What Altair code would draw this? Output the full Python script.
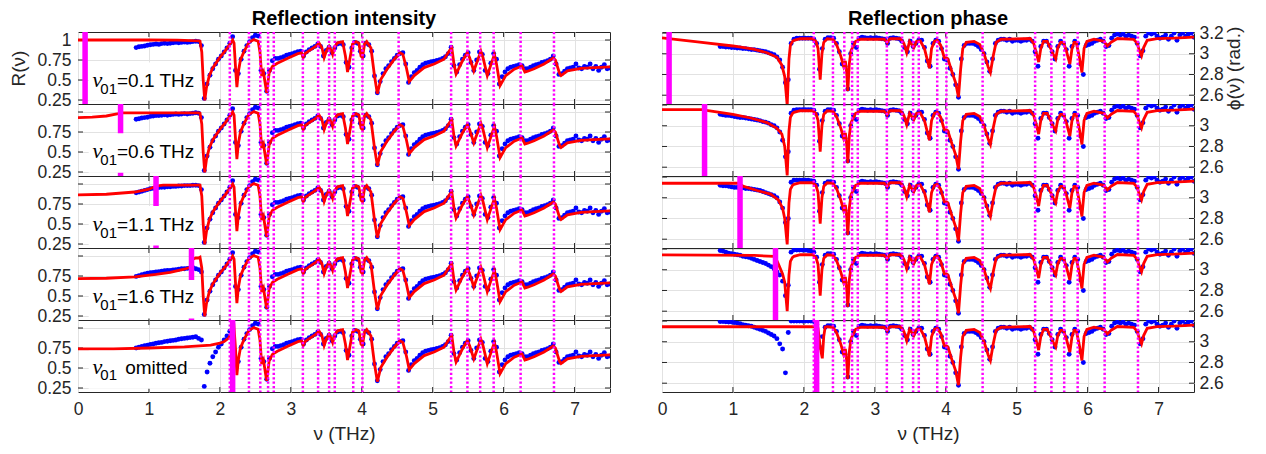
import altair as alt
import pandas as pd

# ---------------- data ----------------
NU_GRID = [
    0.82, 0.86, 0.90, 0.94, 0.98, 1.02, 1.06, 1.10, 1.14, 1.18,
    1.22, 1.26, 1.30, 1.34, 1.38, 1.42, 1.46, 1.50, 1.54, 1.58,
    1.62, 1.66, 1.70, 1.74, 1.78, 1.82, 1.86, 1.90, 1.94, 1.98,
    2.02, 2.06, 2.10, 2.14, 2.18, 2.22, 2.26, 2.30, 2.34, 2.38,
    2.42, 2.46, 2.50, 2.54, 2.58, 2.62, 2.66, 2.70, 2.74, 2.78,
    2.82, 2.86, 2.90, 2.94, 2.98, 3.02, 3.06, 3.10, 3.14, 3.18,
    3.22, 3.26, 3.30, 3.34, 3.38, 3.42, 3.46, 3.50, 3.54, 3.58,
    3.62, 3.66, 3.70, 3.74, 3.78, 3.82, 3.86, 3.90, 3.94, 3.98,
    4.02, 4.06, 4.10, 4.14, 4.18, 4.22, 4.26, 4.30, 4.34, 4.38,
    4.42, 4.46, 4.50, 4.54, 4.58, 4.62, 4.66, 4.70, 4.74, 4.78,
    4.82, 4.86, 4.90, 4.94, 4.98, 5.02, 5.06, 5.10, 5.14, 5.18,
    5.22, 5.26, 5.30, 5.34, 5.38, 5.42, 5.46, 5.50, 5.54, 5.58,
    5.62, 5.66, 5.70, 5.74, 5.78, 5.82, 5.86, 5.90, 5.94, 5.98,
    6.02, 6.06, 6.10, 6.14, 6.18, 6.22, 6.26, 6.30, 6.34, 6.38,
    6.42, 6.46, 6.50, 6.54, 6.58, 6.62, 6.66, 6.70, 6.74, 6.78,
    6.82, 6.86, 6.90, 6.94, 6.98, 7.02, 7.06, 7.10, 7.14, 7.18,
    7.22, 7.26, 7.30, 7.34, 7.38, 7.42, 7.46, 7.50,
]

NU01 = [0.1, 0.6, 1.1, 1.6, 2.18]
LABEL_TEXT = ["=0.1 THz", "=0.6 THz", "=1.1 THz", "=1.6 THz", "omitted"]
PANEL_TITLES = ["Reflection intensity", "Reflection phase"]
RES_LINES = [2.14, 2.41, 2.57, 2.68, 2.76, 3.17, 3.385, 3.54, 3.62, 3.88,
             4.01, 4.52, 5.26, 5.49, 5.67, 5.86, 6.24, 6.71]

R_TICKS = [0.25, 0.5, 0.75, 1.0]
PH_TICKS = [2.6, 2.8, 3.0, 3.2]
X_TICKS = [0, 1, 2, 3, 4, 5, 6, 7]

# fitted reflection intensity (red), per panel below 1.72 THz
R_FIT_LOW = [
    [(0.0, 1.0), (0.5, 1.0), (1.0, 1.0), (1.4, 0.999), (1.6, 0.993), (1.7, 0.988)],
    [(0.0, 0.93), (0.2, 0.935), (0.4, 0.95), (0.55, 0.975), (0.6, 0.99), (1.0, 0.99),
     (1.6, 0.99), (1.7, 0.988)],
    [(0.0, 0.863), (0.4, 0.872), (0.8, 0.9), (1.0, 0.935), (1.1, 0.975), (1.2, 0.985),
     (1.6, 0.987), (1.7, 0.986)],
    [(0.0, 0.717), (0.4, 0.722), (0.8, 0.74), (1.1, 0.77), (1.3, 0.795), (1.5, 0.835),
     (1.58, 0.86), (1.62, 0.96), (1.66, 0.975), (1.7, 0.975)],
    [(0.0, 0.739), (0.5, 0.74), (1.0, 0.75), (1.5, 0.765), (1.87, 0.785), (2.0, 0.81),
     (2.06, 0.83), (2.12, 0.87), (2.16, 0.93), (2.2, 1.0), (2.22, 0.75)],
]
R_FIT_EDGE = [(1.72, 0.985), (1.745, 0.85), (1.765, 0.5), (1.787, 0.245), (1.81, 0.4),
              (1.85, 0.55), (1.9, 0.65), (1.99, 0.77), (2.08, 0.87), (2.15, 0.96),
              (2.18, 1.0), (2.2, 0.96), (2.225, 0.6)]
R_FIT_COMMON = [
    (2.24, 0.41), (2.26, 0.6), (2.29, 0.75), (2.34, 0.855), (2.41, 0.97), (2.48, 1.005),
    (2.54, 0.985), (2.565, 0.85), (2.59, 0.55), (2.615, 0.6), (2.64, 0.45), (2.66, 0.34),
    (2.695, 0.59), (2.74, 0.67), (2.81, 0.71), (2.95, 0.77), (3.10, 0.83), (3.15, 0.84),
    (3.175, 0.78), (3.20, 0.83), (3.25, 0.86), (3.35, 0.92), (3.40, 0.96), (3.44, 0.9),
    (3.47, 0.78), (3.50, 0.86), (3.54, 0.92), (3.57, 0.87), (3.59, 0.82), (3.62, 0.92),
    (3.66, 0.965), (3.73, 0.98), (3.77, 0.8), (3.80, 0.6), (3.83, 0.75), (3.87, 0.95),
    (3.92, 0.98), (3.96, 0.96), (3.99, 0.8), (4.01, 0.78), (4.04, 0.95), (4.07, 0.98),
    (4.13, 0.9), (4.18, 0.55), (4.22, 0.33), (4.27, 0.51), (4.36, 0.64), (4.46, 0.76),
    (4.54, 0.84), (4.58, 0.82), (4.63, 0.65), (4.67, 0.48), (4.74, 0.555), (4.88, 0.655),
    (5.02, 0.7), (5.16, 0.76), (5.24, 0.87), (5.27, 0.9), (5.30, 0.7), (5.33, 0.575),
    (5.42, 0.74), (5.49, 0.84), (5.52, 0.78), (5.58, 0.615), (5.68, 0.86), (5.71, 0.78),
    (5.77, 0.555), (5.87, 0.82), (5.90, 0.7), (5.95, 0.43), (6.03, 0.555), (6.15, 0.635),
    (6.26, 0.675), (6.30, 0.6), (6.34, 0.61), (6.43, 0.64), (6.57, 0.7), (6.70, 0.775),
    (6.73, 0.75), (6.79, 0.58), (6.81, 0.555), (6.90, 0.615), (7.09, 0.645), (7.28, 0.655),
    (7.5, 0.665),
]

# fitted reflection phase (red)
PH_FIT_LOW = [
    [(0.0, 3.153), (0.5, 3.115), (1.0, 3.075), (1.29, 3.044), (1.48, 3.01), (1.62, 2.966),
     (1.69, 2.89), (1.73, 2.78), (1.75, 2.62), (1.765, 2.50)],
    [(0.0, 3.155), (0.6, 3.155), (0.65, 3.145), (1.0, 3.11), (1.25, 3.075), (1.48, 3.03),
     (1.62, 2.975), (1.69, 2.92), (1.73, 2.8), (1.755, 2.6), (1.765, 2.52)],
    [(0.0, 3.14), (1.08, 3.14), (1.15, 3.11), (1.34, 3.07), (1.53, 3.035), (1.64, 2.98),
     (1.70, 2.9), (1.73, 2.8), (1.755, 2.62), (1.765, 2.55)],
    [(0.0, 3.144), (1.3, 3.138), (1.58, 3.13), (1.6, 3.12), (1.65, 3.04), (1.70, 2.96),
     (1.73, 2.88), (1.75, 2.72), (1.765, 2.6)],
    [(0.0, 3.145), (2.17, 3.145), (2.2, 3.13), (2.23, 2.95), (2.26, 2.84), (2.28, 3.05),
     (2.30, 3.14)],
]
PH_FIT_EDGE = [(1.79, 2.95), (1.81, 3.08), (1.84, 3.12)]
PH_FIT_COMMON = [
    (1.86, 3.13), (1.95, 3.145), (2.12, 3.145), (2.17, 3.12), (2.20, 3.05), (2.23, 2.75),
    (2.255, 3.0), (2.28, 3.11), (2.33, 3.145), (2.41, 3.14), (2.46, 3.09), (2.52, 2.98),
    (2.56, 2.88), (2.585, 2.93), (2.605, 2.8), (2.62, 2.64), (2.64, 2.9), (2.665, 3.03),
    (2.73, 3.12), (2.80, 3.14), (3.13, 3.14), (3.16, 3.12), (3.175, 3.105), (3.20, 3.135),
    (3.22, 3.145), (3.36, 3.145), (3.41, 3.1), (3.45, 3.01), (3.49, 3.12), (3.55, 3.06),
    (3.59, 3.12), (3.64, 3.125), (3.70, 3.05), (3.77, 2.86), (3.80, 3.05), (3.84, 3.12),
    (3.88, 3.13), (3.93, 3.08), (3.98, 2.96), (4.01, 2.96), (4.03, 2.95), (4.09, 2.82),
    (4.14, 2.72), (4.18, 2.58), (4.21, 2.85), (4.24, 3.05), (4.29, 3.11), (4.40, 3.12),
    (4.48, 3.09), (4.54, 3.0), (4.60, 2.87), (4.63, 2.82), (4.67, 2.98), (4.71, 3.11),
    (4.78, 3.14), (5.19, 3.147), (5.24, 3.1), (5.28, 3.0), (5.31, 2.92), (5.34, 3.05),
    (5.38, 3.12), (5.43, 3.12), (5.48, 3.05), (5.51, 3.0), (5.55, 2.95), (5.58, 3.06),
    (5.62, 3.11), (5.66, 3.11), (5.70, 3.03), (5.75, 2.90), (5.78, 3.05), (5.81, 3.11),
    (5.84, 3.11), (5.88, 2.98), (5.92, 2.82), (5.95, 3.05), (5.99, 3.12), (6.09, 3.14),
    (6.23, 3.12), (6.28, 3.075), (6.33, 3.11), (6.42, 3.147), (6.65, 3.14), (6.70, 3.1),
    (6.73, 3.03), (6.76, 2.98), (6.79, 3.06), (6.84, 3.13), (6.98, 3.147), (7.22, 3.15),
    (7.5, 3.16),
]

# measured intensity (blue): per panel on NU_GRID[0:24], shared on NU_GRID[24:]
R_DATA_LOW = [
    [0.905, 0.915, 0.92, 0.925, 0.935, 0.94, 0.945, 0.95, 0.945, 0.955,
     0.96, 0.955, 0.96, 0.965, 0.97, 0.965, 0.97, 0.975, 0.97, 0.975,
     0.98, 0.985, 0.98, 0.93],
    [0.91, 0.915, 0.925, 0.93, 0.935, 0.945, 0.95, 0.955, 0.955, 0.96,
     0.965, 0.96, 0.965, 0.97, 0.975, 0.97, 0.975, 0.98, 0.975, 0.98,
     0.985, 0.99, 0.985, 0.93],
    [0.89, 0.9, 0.91, 0.92, 0.93, 0.94, 0.945, 0.95, 0.955, 0.96,
     0.96, 0.965, 0.965, 0.97, 0.97, 0.975, 0.975, 0.98, 0.98, 0.98,
     0.985, 0.985, 0.98, 0.93],
    [0.745, 0.755, 0.765, 0.775, 0.785, 0.79, 0.795, 0.8, 0.805, 0.81,
     0.815, 0.82, 0.82, 0.825, 0.83, 0.835, 0.84, 0.84, 0.845, 0.85,
     0.855, 0.84, 0.83, 0.8],
    [0.75, 0.76, 0.77, 0.78, 0.785, 0.795, 0.8, 0.81, 0.815, 0.82,
     0.83, 0.835, 0.84, 0.845, 0.85, 0.86, 0.865, 0.87, 0.875, 0.88,
     0.885, 0.89, 0.87, 0.85],
]
R_DATA_COMMON = [
    0.27, 0.45, 0.56, 0.64, 0.70, 0.76, 0.80, 0.85, 0.90, 0.96,
    1.04, 0.62, 0.58, 0.76, 0.86, 0.93, 0.98, 1.03, 1.06, 1.05,
    0.62, 0.58, 0.36, 0.62, 0.74, 0.77, 0.77, 0.78, 0.79, 0.81,
    0.82, 0.83, 0.84, 0.855, 0.86, 0.80, 0.85, 0.88, 0.90, 0.92,
    0.95, 0.92, 0.80, 0.87, 0.91, 0.84, 0.90, 0.95, 0.96, 0.94,
    0.72, 0.66, 0.90, 0.97, 0.96, 0.86, 0.80, 0.96, 0.94, 0.86,
    0.55, 0.34, 0.48, 0.58, 0.64, 0.68, 0.73, 0.77, 0.81, 0.83,
    0.84, 0.70, 0.47, 0.54, 0.59, 0.62, 0.66, 0.69, 0.71, 0.72,
    0.73, 0.735, 0.745, 0.755, 0.77, 0.79, 0.83, 0.91, 0.68, 0.60,
    0.69, 0.76, 0.81, 0.84, 0.72, 0.62, 0.75, 0.85, 0.82, 0.62,
    0.58, 0.71, 0.83, 0.76, 0.45, 0.54, 0.60, 0.64, 0.66, 0.67,
    0.68, 0.69, 0.68, 0.64, 0.64, 0.66, 0.68, 0.69, 0.70, 0.72,
    0.73, 0.74, 0.76, 0.80, 0.70, 0.57, 0.58, 0.61, 0.64, 0.65,
    0.66, 0.70, 0.65, 0.64, 0.67, 0.66, 0.70, 0.64, 0.67, 0.62,
    0.66, 0.69, 0.64, 0.65,
]

# measured phase (blue): per panel on NU_GRID[0:36], shared on NU_GRID[36:]
PH_DATA_LOW = [
    [3.07, 3.07, 3.065, 3.065, 3.06, 3.06, 3.055, 3.055, 3.05, 3.05,
     3.045, 3.04, 3.04, 3.035, 3.03, 3.025, 3.02, 3.01, 3.0, 2.99,
     2.97, 2.94, 2.87, 2.72, 2.75, 3.1, 3.14, 3.15, 3.15, 3.15,
     3.15, 3.15, 3.15, 3.14, 3.1, 2.85],
    [3.11, 3.105, 3.1, 3.1, 3.095, 3.09, 3.085, 3.08, 3.08, 3.075,
     3.07, 3.065, 3.06, 3.055, 3.05, 3.04, 3.035, 3.025, 3.01, 3.0,
     2.98, 2.94, 2.86, 2.70, 2.75, 3.12, 3.15, 3.155, 3.155, 3.155,
     3.155, 3.155, 3.155, 3.15, 3.11, 2.85],
    [3.12, 3.115, 3.115, 3.11, 3.105, 3.1, 3.1, 3.095, 3.095, 3.09,
     3.09, 3.085, 3.08, 3.075, 3.07, 3.06, 3.05, 3.04, 3.03, 3.02,
     3.0, 2.96, 2.9, 2.76, 2.8, 3.15, 3.17, 3.17, 3.17, 3.17,
     3.17, 3.17, 3.165, 3.16, 3.12, 2.87],
    [3.185, 3.18, 3.17, 3.16, 3.155, 3.15, 3.145, 3.14, 3.13, 3.125,
     3.12, 3.11, 3.1, 3.09, 3.08, 3.07, 3.06, 3.045, 3.03, 3.01,
     2.98, 2.95, 2.89, 2.75, 2.85, 3.17, 3.19, 3.19, 3.19, 3.19,
     3.19, 3.185, 3.18, 3.17, 3.12, 2.88],
    [3.196, 3.195, 3.193, 3.19, 3.19, 3.185, 3.18, 3.175, 3.165, 3.16,
     3.155, 3.15, 3.14, 3.13, 3.12, 3.11, 3.1, 3.085, 3.07, 3.055,
     3.03, 2.98, 2.93, 2.70, 3.09, 3.2, 3.2, 3.2, 3.2, 3.2,
     3.2, 3.2, 3.2, 3.195, 3.17, 2.95],
]
PH_DATA_COMMON = [
    3.05, 3.14, 3.155, 3.155, 3.15, 3.1, 3.02, 2.9, 2.88, 2.66,
    3.0, 3.1, 3.06, 3.15, 3.16, 3.155, 3.15, 3.155, 3.15, 3.155,
    3.15, 3.145, 3.14, 3.1, 3.15, 3.155, 3.15, 3.145, 3.12, 3.06,
    3.02, 3.12, 3.07, 3.1, 3.13, 3.13, 3.06, 2.93, 2.88, 3.1,
    3.13, 3.12, 3.05, 2.95, 2.94, 2.86, 2.8, 2.7, 2.58, 2.95,
    3.08, 3.1, 3.1, 3.1, 3.09, 3.07, 3.04, 3.0, 2.92, 2.83,
    2.95, 3.1, 3.13, 3.14, 3.14, 3.13, 3.14, 3.12, 3.13, 3.13,
    3.12, 3.13, 3.13, 3.14, 3.12, 3.02, 2.88, 3.07, 3.12, 3.12,
    3.08, 3.02, 2.95, 3.07, 3.12, 3.1, 3.04, 2.88, 3.07, 3.12,
    3.1, 2.9, 2.8, 3.08, 3.09, 3.1, 3.12, 3.13, 3.14, 3.12,
    3.07, 3.08, 3.15, 3.18, 3.19, 3.18, 3.19, 3.17, 3.18, 3.17,
    3.16, 3.1, 2.98, 3.03, 3.17, 3.2, 3.19, 3.2, 3.17, 3.15,
    3.16, 3.18, 3.14, 3.17, 3.2, 3.13, 3.18, 3.2, 3.17, 3.19,
    3.2, 3.16,
]

# ---------------- styling ----------------
FONT = "Liberation Sans"
INK = "#262626"
GRID = "#e2e2e2"
BLUE = "#0000ff"
RED = "#ff0000"
MAG = "#ff00ff"
W, H = 532, 72
XDOM = [0, 7.5]
R_DOM = [0.2, 1.1]
P_DOM = [2.515, 3.21]

BOX_TOP = [0.72, 0.735, 0.725, 0.70, 0.715]
BOX_BOT = [0.24, 0.24, 0.23, 0.22, 0.24]
BOX_RIGHT = [1.72, 1.72, 1.72, 1.72, 1.55]
TXT_BASE = [0.416, 0.425, 0.408, 0.409, 0.431]


def fit_frame(low, edge, common):
    pts = list(low) + list(edge)
    last = pts[-1][0]
    pts += [p for p in common if p[0] > last]
    return pd.DataFrame(pts, columns=["x", "y"])


def data_frame(low, common):
    vals = list(low) + list(common)
    assert len(vals) == len(NU_GRID), (len(vals), len(NU_GRID))
    return pd.DataFrame({"x": NU_GRID, "y": vals})


def tick_frame(ydom, yticks):
    ylen = (ydom[1] - ydom[0]) * 5.0 / H
    xlen = (XDOM[1] - XDOM[0]) * 5.0 / W
    rows = []
    for v in yticks:
        rows.append((XDOM[0], XDOM[0] + xlen, v, v))
        rows.append((XDOM[1] - xlen, XDOM[1], v, v))
    for v in X_TICKS[1:]:
        rows.append((v, v, ydom[0], ydom[0] + ylen))
        rows.append((v, v, ydom[1] - ylen, ydom[1]))
    return pd.DataFrame(rows, columns=["x", "x2", "y", "y2"])


def panel(kind, i):
    left = kind == "R"
    ydom = R_DOM if left else P_DOM
    yt = R_TICKS if left else PH_TICKS
    top = i == 0
    bottom = i == 4

    xkw = dict(values=X_TICKS, grid=True, gridColor=GRID, gridWidth=1, ticks=False,
               domain=False, labelFlush=False)
    if bottom:
        xkw.update(labels=True, title="ν (THz)", format="d", labelPadding=8, titlePadding=7,
                   labelFontSize=17.5, titleFontSize=19, labelColor=INK, titleColor=INK,
                   titleFontWeight="normal", labelFont=FONT, titleFont=FONT)
    else:
        xkw.update(labels=False, title=None)
    xax = alt.Axis(**xkw)

    ykw = dict(values=yt, grid=True, gridColor=GRID, gridWidth=1, ticks=False, domain=False,
               orient="left" if left else "right", labelPadding=7 if left else 5,
               labelFontSize=17.5, labelColor=INK, labelFont=FONT,
               format=".2~f" if left else ".1~f")
    if top:
        ykw.update(title="R(ν)" if left else "ϕ(ν) (rad.)", titleFontSize=19,
                   titleColor=INK, titleFontWeight="normal", titleFont=FONT,
                   titlePadding=8 if left else 1)
        if not left:
            ykw.update(titleAngle=270, titleBaseline="top")
    else:
        ykw.update(title=None,
                   labelExpr="datum.value == 1 ? '' : datum.label" if left
                   else "datum.value > 3.15 ? '' : datum.label")
    yax = alt.Axis(**ykw)

    xs = alt.Scale(domain=XDOM, nice=False, zero=False)
    ys = alt.Scale(domain=ydom, nice=False, zero=False)

    def X():
        return alt.X("x:Q", scale=xs, axis=xax)

    def Y():
        return alt.Y("y:Q", scale=ys, axis=yax)

    if left:
        fit = fit_frame(R_FIT_LOW[i], R_FIT_EDGE if i < 4 else [], R_FIT_COMMON)
        meas = data_frame(R_DATA_LOW[i], R_DATA_COMMON)
    else:
        fit = fit_frame(PH_FIT_LOW[i], PH_FIT_EDGE if i < 4 else [], PH_FIT_COMMON)
        meas = data_frame(PH_DATA_LOW[i], PH_DATA_COMMON)

    layers = [
        alt.Chart(tick_frame(ydom, yt)).mark_rule(color=INK, strokeWidth=1).encode(
            x=X(), x2=alt.X2("x2"), y=Y(), y2=alt.Y2("y2")),
        alt.Chart(meas).mark_circle(size=24, color=BLUE, opacity=1, clip=True).encode(
            x=X(), y=Y()),
        alt.Chart(fit).mark_line(color=RED, strokeWidth=2.8, clip=True).encode(
            x=X(), y=Y()),
        alt.Chart(pd.DataFrame({"x": RES_LINES})).mark_rule(
            color=MAG, strokeWidth=2.5, strokeDash=[2.2, 2.2]).encode(x=X()),
        alt.Chart(pd.DataFrame({"x": [NU01[i]]})).mark_rule(
            color=MAG, strokeWidth=5.5).encode(x=X()),
    ]
    if left:
        box = pd.DataFrame({"x": [0.15], "x2": [BOX_RIGHT[i]],
                            "y": [BOX_BOT[i]], "y2": [BOX_TOP[i]]})
        layers.append(alt.Chart(box).mark_rect(color="white").encode(
            x=X(), x2=alt.X2("x2"), y=Y(), y2=alt.Y2("y2")))
        b = TXT_BASE[i]
        layers.append(alt.Chart(pd.DataFrame({"x": [0.205], "y": [b], "t": ["ν"]})).mark_text(
            align="left", baseline="alphabetic", fontSize=22, font="Liberation Serif",
            fontStyle="italic", color="black").encode(x=X(), y=Y(), text="t:N"))
        layers.append(alt.Chart(pd.DataFrame({"x": [0.315], "y": [b - 0.087], "t": ["01"]})).mark_text(
            align="left", baseline="alphabetic", fontSize=15, font=FONT,
            color="black").encode(x=X(), y=Y(), text="t:N"))
        layers.append(alt.Chart(pd.DataFrame({"x": [0.55 if i < 4 else 0.665], "y": [b],
                                              "t": [LABEL_TEXT[i]]})).mark_text(
            align="left", baseline="alphabetic", fontSize=19, font=FONT,
            color="black").encode(x=X(), y=Y(), text="t:N"))
    if top:
        layers.append(
            alt.Chart(pd.DataFrame({"t": [PANEL_TITLES[0 if left else 1]]})).mark_text(
                align="center", baseline="alphabetic", fontSize=20, fontWeight="bold",
                font=FONT, color="black").encode(
                x=alt.value(W / 2), y=alt.value(-7), text="t:N"))

    return alt.layer(*layers).properties(width=W, height=H)


cells = []
for i in range(5):
    cells.append(panel("R", i))
    cells.append(panel("P", i))

chart = alt.concat(
    *cells, columns=2, spacing={"row": 0, "column": 52}, bounds="flush"
).properties(
    padding={"left": 1, "right": 2, "top": 0, "bottom": 0}
).configure(font=FONT).configure_view(stroke=INK, strokeWidth=1)

chart.save("out.html", embed_options={"renderer": "svg", "actions": False})
